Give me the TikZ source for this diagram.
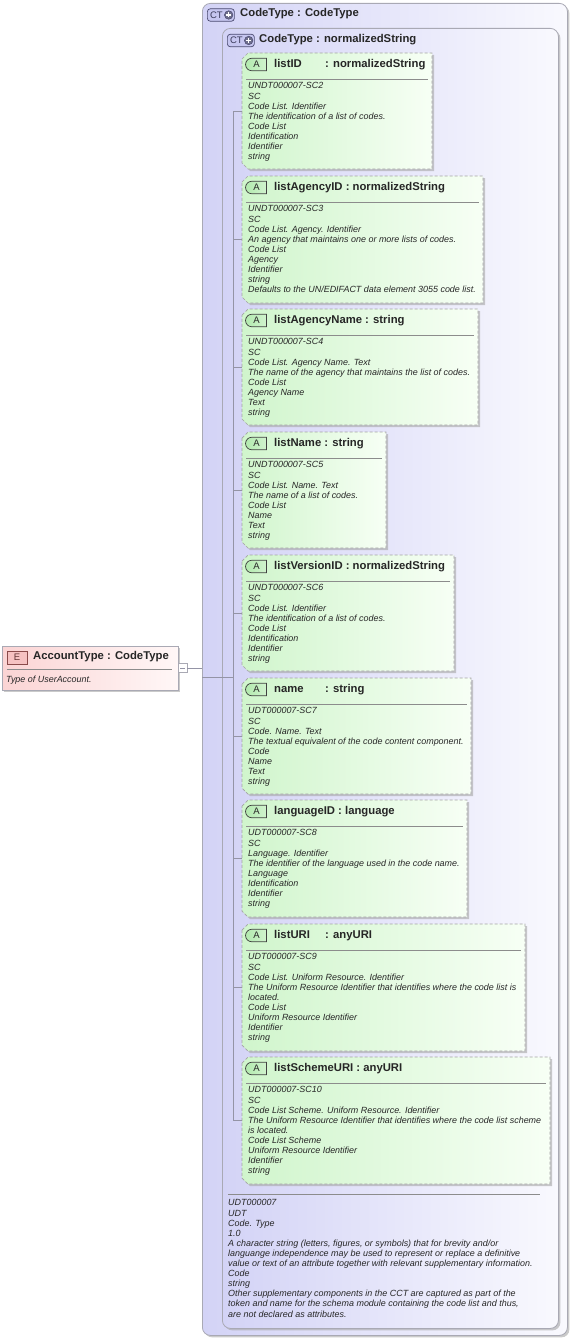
\documentclass[tikz,border=0pt]{standalone}
\usepackage{fontspec}
\setmainfont{Liberation Sans}
\usetikzlibrary{shadows,shapes.misc}
\definecolor{lav}{HTML}{D3D3F6}
\definecolor{lavw}{HTML}{F9F9FE}
\definecolor{grn}{HTML}{D0F5CC}
\definecolor{grnw}{HTML}{F7FFF5}
\definecolor{pnk}{HTML}{FBD4D4}
\definecolor{pnkw}{HTML}{FFF7F7}
\definecolor{bord}{HTML}{A9A9B4}
\definecolor{dbord}{HTML}{A4A4A4}
\definecolor{conncol}{HTML}{9494A6}
\definecolor{txt}{HTML}{262626}
\definecolor{ctfill}{HTML}{C6C6F0}
\definecolor{ctline}{HTML}{4A4A70}
\definecolor{afill}{HTML}{B2EAAE}
\definecolor{efill}{HTML}{F6C2C2}
\definecolor{eline}{HTML}{8A4A4A}
\tikzset{
 ttl/.style={font=\fontsize{11.3}{13}\selectfont\bfseries, text=txt, anchor=west, inner sep=0},
 desc/.style={font=\fontsize{8.95}{10.1}\selectfont\itshape, text=txt, align=left, anchor=north west, inner sep=0},
 shad/.style={drop shadow={shadow xshift=2pt, shadow yshift=-2pt, fill=black!35, opacity=0.6}},
 ctbox/.style={draw=bord, rounded corners=8pt, left color=lav, right color=lavw, shad, line width=0.8pt, inner sep=0, anchor=north west},
 attrshape/.style={draw=dbord, dashed, dash pattern=on 3pt off 2pt, left color=grn, right color=grnw, shad, line width=0.7pt},
 sepl/.style={draw=black!45, line width=0.6pt},
 connl/.style={draw=conncol, line width=0.7pt},
 aicon/.style={rounded rectangle, rounded rectangle right arc=none, draw=black!75, left color=afill, right color=afill!60!white, minimum width=21pt, minimum height=12.5pt, inner sep=0, font=\fontsize{9.5}{9.5}\selectfont, text=txt, line width=0.7pt},
 cticon/.style={rounded corners=3pt, draw=ctline, fill=ctfill, minimum width=27pt, minimum height=12.5pt, inner xsep=2.5pt, inner ysep=0, font=\fontsize{9.5}{9.5}\selectfont, text=ctline!80!black, line width=0.7pt, anchor=west, align=left},
 ctplus/.style={circle, minimum size=8.5pt, inner sep=0, fill=ctline!80, draw=ctline, line width=0.5pt},
 holder/.style={inner sep=0, anchor=north west}
}
\newcommand\attrib[6]{%
 \path[attrshape] (242,#2+6) -- (248,#2) -- (#4,#2) -- (#4,#2+#3) -- (248,#2+#3) -- (242,#2+#3-6) -- cycle;
 \node[holder, minimum width=#4-242, minimum height=#3] (#1) at (242,#2) {};
 \node[aicon] (#1i) at (256.5,#2+11.5) {A};
 \node[ttl] (#1t) at (274,#2+11.5) {#5};
 \draw[sepl] (246,#2+26.5) -- (#4-4,#2+26.5);
 \node[desc] (#1d) at (248,#2+29.5) {#6};
}
\begin{document}
\begin{tikzpicture}[x=1pt,y=-1pt]
\useasboundingbox (0,0) rectangle (570,1338);
% outer and inner complex types
\node[ctbox, minimum width=365pt, minimum height=1332pt] (ct1) at (202,3) {};
\node[cticon] (c1i) at (207,15) {CT\hspace{9pt}};
\node[ctplus] (c1p) at ([xshift=-6pt]c1i.east) {};
\draw[white, line width=1.2pt] (c1p.center) ++(-2.5,0) -- ++(5,0);
\draw[white, line width=1.2pt] (c1p.center) ++(0,-2.5) -- ++(0,5);
\node[ttl] (c1t) at (240,14) {CodeType : CodeType};

\node[ctbox, minimum width=336pt, minimum height=1300pt] (ct2) at (222,28) {};
\node[cticon] (c2i) at (227,40.5) {CT\hspace{9pt}};
\node[ctplus] (c2p) at ([xshift=-6pt]c2i.east) {};
\draw[white, line width=1.2pt] (c2p.center) ++(-2.5,0) -- ++(5,0);
\draw[white, line width=1.2pt] (c2p.center) ++(0,-2.5) -- ++(0,5);
\node[ttl] (c2t) at (259,40) {CodeType : normalizedString};

% element
\node[draw=bord, left color=pnk, right color=pnkw, shad, minimum width=176pt, minimum height=44pt, holder, line width=0.8pt] (e) at (2,646) {};
\node[draw=eline, fill=efill, minimum width=20pt, minimum height=13pt, inner sep=0, font=\fontsize{9.5}{9.5}\selectfont, text=eline!70!black, line width=0.7pt] (ei) at (17,657.5) {E};
\node[ttl] (et) at (33,657) {AccountType : CodeType};
\draw[sepl] (7,669) -- (172,669);
\node[desc] (ed) at (6,675.5) {Type of UserAccount.};
\node[draw=bord, fill=white, minimum size=9pt, inner sep=0, line width=0.6pt] (mb) at (182.5,668) {};
\draw[connl] (mb.center) ++(-2.5,0) -- ++(5,0);

% connectors
\coordinate (hub) at (233,677);
\draw[connl] (mb.east) -- (mb.east -| ct1.west);
\draw[connl] (ct1.west |- hub) -- (hub);

% attributes
\attrib{a1}{53}{116}{432}{\makebox[51pt][l]{listID}: normalizedString}{UNDT000007-SC2\\SC\\Code List. Identifier\\The identification of a list of codes.\\Code List\\Identification\\Identifier\\string}
\attrib{a2}{176}{127}{483}{listAgencyID : normalizedString}{UNDT000007-SC3\\SC\\Code List. Agency. Identifier\\An agency that maintains one or more lists of codes.\\Code List\\Agency\\Identifier\\string\\Defaults to the UN/EDIFACT data element 3055 code list.}
\attrib{a3}{309}{116}{478}{listAgencyName : string}{UNDT000007-SC4\\SC\\Code List. Agency Name. Text\\The name of the agency that maintains the list of codes.\\Code List\\Agency Name\\Text\\string}
\attrib{a4}{432}{116}{386}{listName : string}{UNDT000007-SC5\\SC\\Code List. Name. Text\\The name of a list of codes.\\Code List\\Name\\Text\\string}
\attrib{a5}{555}{116}{454}{listVersionID : normalizedString}{UNDT000007-SC6\\SC\\Code List. Identifier\\The identification of a list of codes.\\Code List\\Identification\\Identifier\\string}
\attrib{a6}{678}{116}{471}{\makebox[51pt][l]{name}: string}{UDT000007-SC7\\SC\\Code. Name. Text\\The textual equivalent of the code content component.\\Code\\Name\\Text\\string}
\attrib{a7}{800}{117}{467}{languageID : language}{UDT000007-SC8\\SC\\Language. Identifier\\The identifier of the language used in the code name.\\Language\\Identification\\Identifier\\string}
\attrib{a8}{924}{127}{525}{\makebox[51pt][l]{listURI}: anyURI}{UDT000007-SC9\\SC\\Code List. Uniform Resource. Identifier\\The Uniform Resource Identifier that identifies where the code list is\\located.\\Code List\\Uniform Resource Identifier\\Identifier\\string}
\attrib{a9}{1057}{127}{550}{listSchemeURI : anyURI}{UDT000007-SC10\\SC\\Code List Scheme. Uniform Resource. Identifier\\The Uniform Resource Identifier that identifies where the code list scheme\\is located.\\Code List Scheme\\Uniform Resource Identifier\\Identifier\\string}

\foreach \n in {1,...,9} \draw[connl] (hub) |- (a\n.west);

% bottom annotation
\draw[sepl] (228,1194) -- (540,1194);
\node[desc] (bt) at (228,1199.5) {UDT000007\\UDT\\Code. Type\\1.0\\A character string (letters, figures, or symbols) that for brevity and/or\\languange independence may be used to represent or replace a definitive\\value or text of an attribute together with relevant supplementary information.\\Code\\string\\Other supplementary components in the CCT are captured as part of the\\token and name for the schema module containing the code list and thus,\\are not declared as attributes.};
\end{tikzpicture}
\end{document}
